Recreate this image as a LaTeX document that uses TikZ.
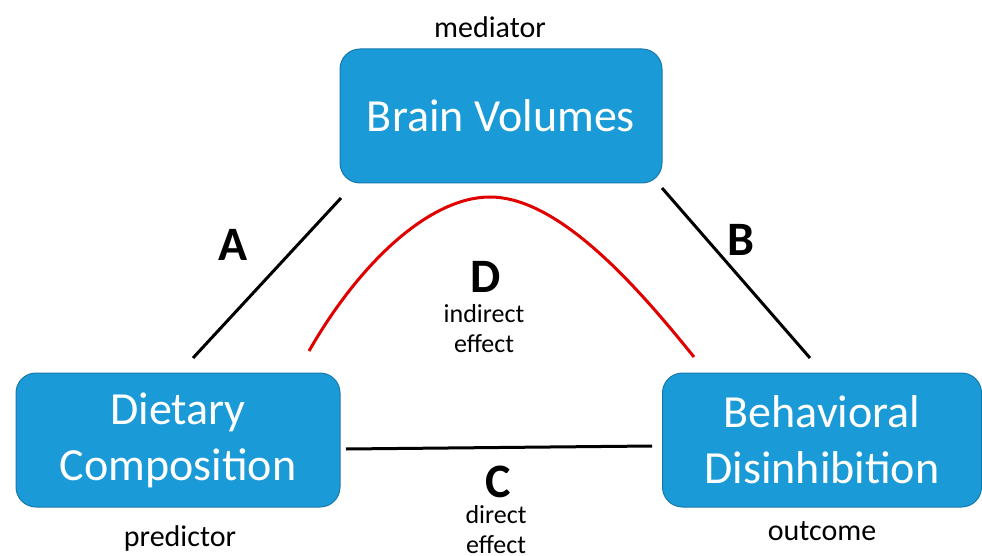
\documentclass[tikz,border=0pt]{standalone}
\usepackage{fontspec}
\setmainfont{Carlito}
\definecolor{boxblue}{HTML}{1A9BD7}
\definecolor{boxedge}{HTML}{1778AE}
\definecolor{pathred}{HTML}{E00000}
\tikzset{
  varbox/.style={draw=boxedge,fill=boxblue,rounded corners=20pt,line width=1pt,
    text=white,align=center,font=\fontsize{46}{56}\selectfont,
    minimum height=134pt,inner sep=0pt},
  role/.style={font=\fontsize{30}{30}\selectfont},
  pathlbl/.style={font=\fontsize{48}{48}\bfseries\selectfont,inner sep=0pt},
  effect/.style={font=\fontsize{26}{30}\selectfont,align=center,inner sep=0pt},
  pathline/.style={line width=3pt}
}
\begin{document}
\begin{tikzpicture}[x=1pt,y=-1pt]
      \useasboundingbox (0,0) rectangle (982,556);
      % variables
      \node[varbox,minimum width=322pt] (brain) at (501,116){Brain Volumes};
      \node[varbox,minimum width=324pt] (diet) at (178,440){Dietary\\Composition};
      \node[varbox,minimum width=319pt] (behav) at (822,440){Behavioral\\Disinhibition};
      \node[role] (med) at (490,27){mediator};
      \node[role] (pred) at (180,538){predictor};
      \node[role] (out) at (822,531){outcome};
      % paths
      \coordinate (a1) at (193,358);
      \coordinate (a2) at (341,198);
      \coordinate (b1) at (662,188);
      \coordinate (b2) at (810,358);
      \coordinate (c1) at (346,449);
      \coordinate (c2) at (652,446);
      \draw[pathline](a1)--(a2);
      \draw[pathline](b1)--(b2);
      \draw[pathline](c1)--(c2);
      \draw[pathline,pathred](309,351) .. controls (360,262) and (430,197) .. (490,197)
        .. controls (560,197) and (640,290) .. (694,357);
      \node[pathlbl] (la) at (233,245){A};
      \node[pathlbl] (lb) at (741,240){B};
      \node[pathlbl] (lc) at (498,482){C};
      \node[pathlbl] (ld) at (486,277){D};
      \node[effect] (ind) at (484,329){indirect\\effect};
      \node[effect] (dir) at (496,530){direct\\effect};
    \end{tikzpicture}
\end{document}
